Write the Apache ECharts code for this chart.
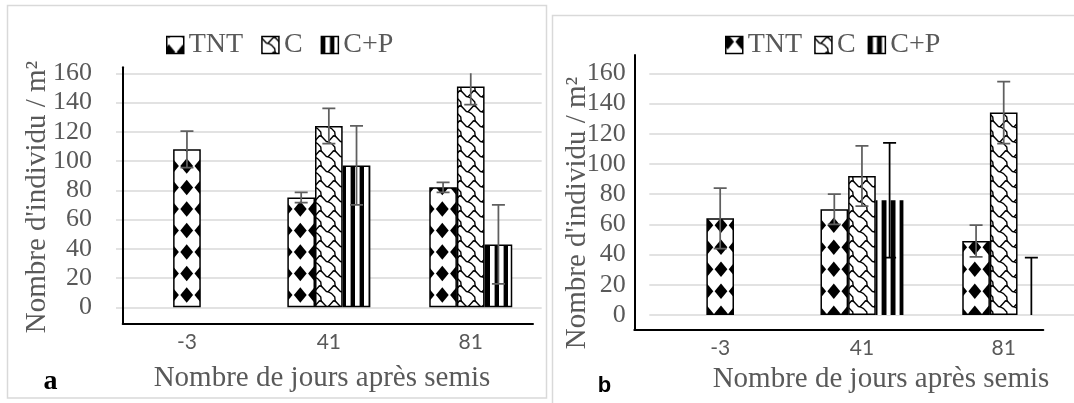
<!DOCTYPE html>
<html><head><meta charset="utf-8">
<script src="https://cdn.jsdelivr.net/npm/echarts@6/dist/echarts.min.js"></script>
<style>html,body{margin:0;padding:0;background:#fff}#c{width:1074px;height:403px}</style>
</head><body><div id="c"></div>
<script>
// ---------------- data ----------------
const categories = ['-3', '41', '81'];
const seriesNames = ['TNT', 'C', 'C+P'];
// panel a
const aTNT = [108, 75, 82];
const aTNTErr = [12.5, 3.5, 3.5];
const aC = [null, 124, 151];
const aCErr = [null, 12, 12.5];
const aCP = [null, 97, 43];
const aCPErr = [null, 27, 27];
// panel b
const bTNT = [64, 70, 49];
const bTNTErr = [20, 10, 10.5];
const bC = [null, 92, 134];
const bCErr = [null, 20, 20.5];
const bCP = [null, 76, 0];
const bCPErr = [null, 38, 38];
const yMin = 0, yMax = 160, yStep = 20;
const xTitle = 'Nombre de jours après semis';
const yTitle = "Nombre d'individu / m²";
const panelLetters = ['a', 'b'];

// ---------------- patterns ----------------
function makeCanvas(w, h, draw) {
  const c = document.createElement('canvas');
  c.width = w; c.height = h;
  const ctx = c.getContext('2d');
  ctx.fillStyle = '#fff'; ctx.fillRect(0, 0, w, h);
  draw(ctx);
  return c;
}
function diamondPattern(W, H, colP, rowP, px, py, hw, hh) {
  return makeCanvas(W, H, ctx => {
    ctx.fillStyle = '#000';
    for (let x = px - colP; x < W + colP; x += colP) {
      for (let y = py - rowP; y < H + rowP; y += rowP) {
        ctx.beginPath();
        ctx.moveTo(x, y - hh); ctx.lineTo(x + hw, y); ctx.lineTo(x, y + hh); ctx.lineTo(x - hw, y);
        ctx.closePath(); ctx.fill();
      }
    }
  });
}
// shingle-like hatch, drawn from an 8x8 cell layout scaled to W x H
function shinglePattern(W, H) {
  const sx = W / 8, sy = H / 8;
  const paths = [
    [[-0.5, 0.5], [0.5, 1.5], [2.5, 3.5], [3.5, 3.6], [5.5, 4.6], [7.3, 6.4], [7.5, 8.5]],
    [[6.5, 0.5], [3.5, 3.6]],
    [[6.5, 0.5], [7.5, 0.5]]
  ];
  return makeCanvas(W, H, ctx => {
    ctx.strokeStyle = '#000'; ctx.lineWidth = 1.4; ctx.lineJoin = 'round'; ctx.lineCap = 'round';
    for (const dx of [-W, 0, W]) for (const dy of [-H, 0, H]) {
      for (const pth of paths) {
        ctx.beginPath();
        pth.forEach(([u, v], j) => {
          const X = dx + u * sx, Y = dy + v * sy;
          if (j === 0) ctx.moveTo(X, Y); else ctx.lineTo(X, Y);
        });
        ctx.stroke();
      }
    }
  });
}
function stripePattern(W, blackW, grayW) {
  return makeCanvas(W, 4, ctx => {
    ctx.fillStyle = '#000'; ctx.fillRect(0, 0, blackW, 4);
    ctx.fillStyle = '#9a9a9a'; ctx.fillRect(W - grayW, 0, grayW, 4);
  });
}
const pat = c => ({ image: c, repeat: 'repeat' });
const patA = [
  pat(diamondPattern(142, 43, 14.2, 21.5, 2.1, 15.5, 6.4, 7.8)),
  pat(shinglePattern(14, 15)),
  pat(stripePattern(9, 4, 1))
];
const patB = [
  pat(diamondPattern(141, 44, 14.1, 22, 1.9, 5.3, 6.4, 7.8)),
  pat(shinglePattern(14, 15)),
  pat(stripePattern(9, 4.5, 1))
];

// ---------------- layout ----------------
const BAR_FRAC = 0.195;
const panels = [
  { values: [aTNT, aC, aCP], errs: [aTNTErr, aCErr, aCPErr], patterns: patA,
    borders: [1.5, 1.5, 1.5], errColors: ['#5f5f5f', '#5f5f5f', '#5f5f5f'],
    grid: { left: 116, top: 73.3, width: 425.7, height: 234 },
    frame: { left: 122.7, top: 67.3, width: 410.3, height: 256 },
    xLabelMargin: 24, yLabelMargin: 24,
    legend: { left: 166, top: 31, itemGap: 18 },
    box: { x: 7.5, y: 5.5, width: 539, height: 392.5 },
    xTitlePos: [322, 378], yTitlePos: [37, 197], letterPos: [50.5, 382],
    letterFont: { fontFamily: 'Liberation Serif', fontSize: 28 } },
  { values: [bTNT, bC, bCP], errs: [bTNTErr, bCErr, bCPErr], patterns: patB,
    borders: [1.5, 1.5, 0], errColors: ['#5f5f5f', '#5f5f5f', '#000'],
    grid: { left: 649.3, top: 73.3, width: 425.3, height: 241.7 },
    frame: { left: 634.3, top: 55, width: 409, height: 274.3 },
    xLabelMargin: 23, yLabelMargin: 23.6,
    legend: { left: 725, top: 31, itemGap: 12 },
    box: { x: 552.5, y: 15.5, width: 540, height: 400 },
    xTitlePos: [881, 379], yTitlePos: [577, 213], letterPos: [604.5, 386],
    letterFont: { fontFamily: 'Liberation Sans', fontSize: 22 } }
];

const grid = [], xAxis = [], yAxis = [], series = [], legend = [], graphic = [];
const grayText = '#595959';

panels.forEach((p, pi) => {
  const gMain = 2 * pi, gFrame = 2 * pi + 1;
  const xMain = 3 * pi, xSolo = 3 * pi + 1, xFrame = 3 * pi + 2;
  const yMainI = 2 * pi, yFrame = 2 * pi + 1;
  grid.push(Object.assign({ outerBoundsMode: 'none', containLabel: false }, p.grid));
  grid.push(Object.assign({ outerBoundsMode: 'none', containLabel: false }, p.frame));
  xAxis.push({ gridIndex: gMain, type: 'category', data: categories,
    axisLine: { show: false }, axisTick: { show: false }, splitLine: { show: false },
    axisLabel: { margin: p.xLabelMargin, fontFamily: 'Lato', fontSize: 21, color: grayText } });
  xAxis.push({ gridIndex: gMain, type: 'category', data: categories, show: false });
  xAxis.push({ gridIndex: gFrame, type: 'category', data: categories,
    axisLine: { show: true, onZero: false, lineStyle: { color: '#000', width: 2 } },
    axisTick: { show: false }, axisLabel: { show: false }, splitLine: { show: false } });
  yAxis.push({ gridIndex: gMain, type: 'value', min: yMin, max: yMax, interval: yStep,
    axisLine: { show: false }, axisTick: { show: false },
    splitLine: { show: true, lineStyle: { color: '#d9d9d9', width: 1.5 } },
    axisLabel: { margin: p.yLabelMargin, fontFamily: 'Liberation Serif', fontSize: 26, color: grayText } });
  yAxis.push({ gridIndex: gFrame, type: 'value', min: 0, max: 1,
    axisLine: { show: true, lineStyle: { color: '#000', width: 2 } },
    axisTick: { show: false }, axisLabel: { show: false }, splitLine: { show: false } });

  const count = categories.map((_, i) => p.values.filter(v => v[i] != null).length);
  const nMain = p.values.length;
  p.values.forEach((vals, k) => {
    const style = { color: p.patterns[k], borderColor: '#000', borderWidth: p.borders[k] };
    series.push({ type: 'bar', name: seriesNames[k], xAxisIndex: xMain, yAxisIndex: yMainI,
      data: vals.map((v, i) => count[i] > 1 ? v : null),
      barWidth: (BAR_FRAC * 100) + '%', barGap: '0%', itemStyle: style, silent: true });
    const solo = vals.map((v, i) => count[i] === 1 ? v : null);
    if (solo.some(v => v != null)) {
      series.push({ type: 'bar', name: seriesNames[k], xAxisIndex: xSolo, yAxisIndex: yMainI,
        data: solo, barWidth: (BAR_FRAC * 100) + '%', barGap: '0%', itemStyle: style, silent: true });
    }
    const errData = [];
    vals.forEach((v, i) => { if (v != null) errData.push([i, v, p.errs[k][i]]); });
    const color = p.errColors[k];
    series.push({ type: 'custom', name: seriesNames[k], xAxisIndex: xMain, yAxisIndex: yMainI,
      coordinateSystem: 'cartesian2d', clip: true, z: 5, silent: true,
      encode: { x: 0, y: 1 }, data: errData,
      renderItem: (params, api) => {
        const i = api.value(0), v = api.value(1), e = api.value(2);
        const slot = count[i] === 1 ? 0 : k - (nMain - 1) / 2;
        const band = api.size([1, 0])[0];
        const x = api.coord([i, v])[0] + slot * band * BAR_FRAC;
        const yHi = api.coord([i, v + e])[1];
        const yLo = api.coord([i, v - e])[1];
        const cap = 6.5;
        const st = { stroke: color, lineWidth: 1.75 };
        return { type: 'group', children: [
          { type: 'line', shape: { x1: x, y1: yHi, x2: x, y2: yLo }, style: st },
          { type: 'line', shape: { x1: x - cap, y1: yHi, x2: x + cap, y2: yHi }, style: st },
          { type: 'line', shape: { x1: x - cap, y1: yLo, x2: x + cap, y2: yLo }, style: st }
        ] };
      } });
  });

  legend.push({ left: p.legend.left, top: p.legend.top, itemGap: p.legend.itemGap, padding: 0,
    itemWidth: 17, itemHeight: 17, icon: 'rect', selectedMode: false,
    textStyle: { fontFamily: 'Liberation Serif', fontSize: 28, color: grayText },
    data: seriesNames.map((n, k) => ({ name: n, icon: 'rect',
      itemStyle: { color: p.patterns[k], borderColor: '#000', borderWidth: Math.max(p.borders[k], 1.5) } })) });

  graphic.push({ type: 'rect', z: -10, silent: true, shape: p.box,
    style: { fill: 'none', stroke: '#d9d9d9', lineWidth: 1.5 } });
  graphic.push({ type: 'text', x: p.xTitlePos[0], y: p.xTitlePos[1], silent: true,
    style: { text: xTitle, fontFamily: 'Liberation Serif', fontSize: 29, fill: grayText, align: 'center', verticalAlign: 'middle' } });
  graphic.push({ type: 'text', x: p.yTitlePos[0], y: p.yTitlePos[1], rotation: Math.PI / 2, silent: true,
    style: { text: yTitle, fontFamily: 'Liberation Serif', fontSize: 29, fill: grayText, align: 'center', verticalAlign: 'middle' } });
  graphic.push({ type: 'text', x: p.letterPos[0], y: p.letterPos[1], silent: true,
    style: Object.assign({ text: panelLetters[pi], fontWeight: 'bold', fill: '#000', align: 'center', verticalAlign: 'middle' }, p.letterFont) });
});

const chart = echarts.init(document.getElementById('c'), null, { renderer: 'canvas' });
chart.setOption({ animation: false, backgroundColor: '#fff', grid, xAxis, yAxis, legend, series, graphic });
</script></body></html>
